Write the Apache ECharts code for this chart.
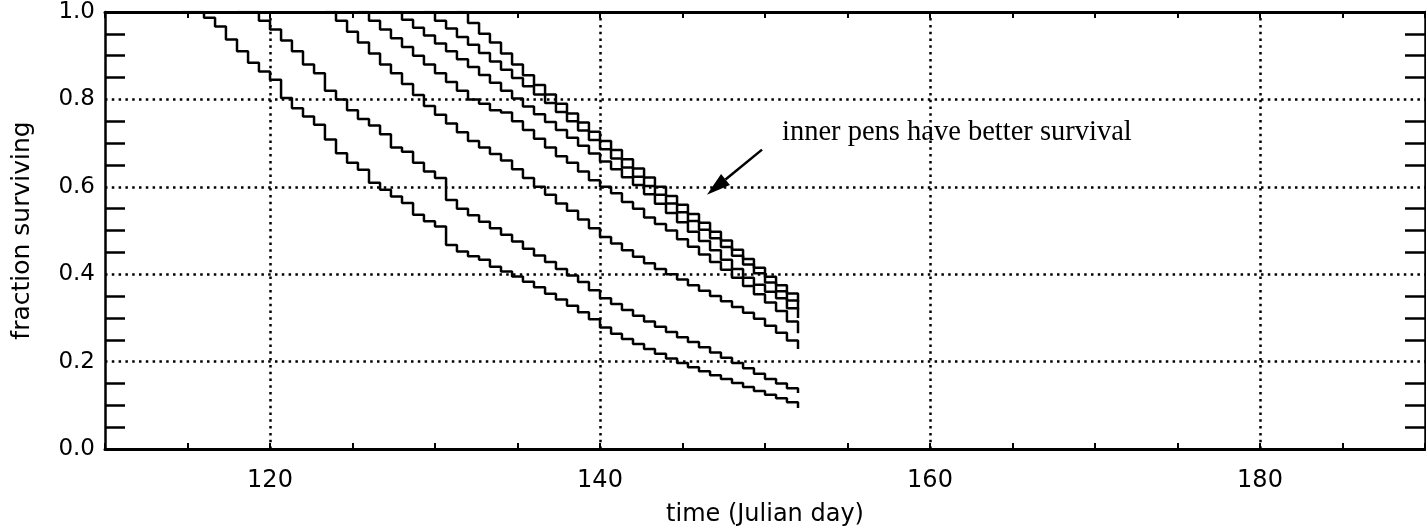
<!DOCTYPE html>
<html><head><meta charset="utf-8">
<script src="https://cdn.jsdelivr.net/npm/echarts@6/dist/echarts.min.js"></script>
<style>html,body{margin:0;padding:0;background:#fff}#c{width:1426px;height:530px}</style>
</head><body><div id="c"></div>
<script>
// observation times (Julian day), one every 8 hours
const days = [114.67,115.33,116,116.67,117.33,118,118.67,119.33,120,120.67,121.33,122,122.67,123.33,124,124.67,125.33,126,126.67,127.33,128,128.67,129.33,130,130.67,131.33,132,132.67,133.33,134,134.67,135.33,136,136.67,137.33,138,138.67,139.33,140,140.67,141.33,142,142.67,143.33,144,144.67,145.33,146,146.67,147.33,148,148.67,149.33,150,150.67,151.33,152];
const _ = null;
// fraction surviving for each pen
const pen1 = [1.0,1.0,0.987,0.967,0.937,0.910,0.884,0.864,0.845,0.803,0.780,0.761,0.742,0.708,0.677,0.655,0.639,0.609,0.593,0.578,0.563,0.536,0.521,0.509,0.467,0.452,0.441,0.433,0.417,0.406,0.395,0.383,0.370,0.355,0.342,0.328,0.313,0.297,0.278,0.264,0.252,0.240,0.229,0.218,0.207,0.197,0.187,0.178,0.169,0.160,0.151,0.142,0.133,0.124,0.116,0.107,0.094];
const pen2 = [_,_,_,_,_,1.0,1.0,0.98,0.96,0.935,0.91,0.88,0.86,0.82,0.80,0.775,0.755,0.74,0.72,0.69,0.68,0.655,0.635,0.62,0.57,0.55,0.535,0.52,0.505,0.49,0.475,0.458,0.443,0.428,0.412,0.397,0.382,0.363,0.345,0.332,0.318,0.305,0.292,0.280,0.268,0.256,0.245,0.233,0.221,0.209,0.197,0.185,0.172,0.160,0.150,0.139,0.128];
const pen3 = [_,_,_,_,_,_,_,_,_,_,_,_,_,1.0,0.98,0.955,0.93,0.905,0.88,0.86,0.835,0.81,0.785,0.765,0.745,0.725,0.705,0.69,0.675,0.66,0.64,0.62,0.60,0.582,0.562,0.545,0.525,0.505,0.485,0.470,0.455,0.440,0.425,0.412,0.400,0.388,0.375,0.362,0.350,0.338,0.325,0.312,0.298,0.282,0.266,0.248,0.229];
const pen4 = [_,_,_,_,_,_,_,_,_,_,_,_,_,_,_,_,1.0,0.98,0.96,0.94,0.92,0.90,0.88,0.86,0.84,0.82,0.80,0.79,0.775,0.77,0.75,0.73,0.71,0.69,0.67,0.655,0.635,0.615,0.60,0.585,0.565,0.55,0.53,0.515,0.50,0.48,0.463,0.445,0.428,0.41,0.392,0.373,0.354,0.335,0.316,0.292,0.265];
const pen5 = [_,_,_,_,_,_,_,_,_,_,_,_,_,_,_,_,_,_,_,1.0,0.982,0.964,0.946,0.928,0.910,0.892,0.874,0.856,0.838,0.820,0.802,0.784,0.766,0.748,0.730,0.712,0.694,0.676,0.658,0.640,0.622,0.604,0.583,0.561,0.540,0.519,0.497,0.476,0.455,0.433,0.412,0.392,0.376,0.360,0.345,0.322,0.30];
const pen6 = [_,_,_,_,_,_,_,_,_,_,_,_,_,_,_,_,_,_,_,_,_,_,1.0,0.98,0.962,0.943,0.925,0.906,0.887,0.868,0.849,0.830,0.811,0.792,0.771,0.750,0.729,0.707,0.686,0.665,0.644,0.623,0.602,0.582,0.562,0.542,0.522,0.502,0.482,0.462,0.442,0.422,0.402,0.381,0.361,0.340,0.32];
const pen7 = [_,_,_,_,_,_,_,_,_,_,_,_,_,_,_,_,_,_,_,_,_,_,_,_,_,1.0,0.975,0.95,0.93,0.905,0.88,0.855,0.833,0.811,0.79,0.768,0.747,0.726,0.705,0.684,0.663,0.642,0.621,0.60,0.579,0.559,0.538,0.518,0.497,0.477,0.456,0.435,0.415,0.394,0.375,0.356,0.337];
const pens = [pen1, pen2, pen3, pen4, pen5, pen6, pen7];
const xGridDays = [120, 140, 160, 180];
const xLabelStep = 20;
const annotationText = 'inner pens have better survival';
const annotationAt = [151.03, 0.724];
const arrowFrom = [149.82, 0.685];
const arrowTo = [146.48, 0.582];

const dotted = {color: '#000', width: 2.5, type: [2.5, 4.3]};
const sans = '"DejaVu Sans", sans-serif';
const chart = echarts.init(document.getElementById('c'), null, {renderer: 'canvas'});

const series = pens.map((vals, idx) => {
  const s = {
    type: 'line', step: 'end', symbol: 'none', animation: false, silent: true,
    lineStyle: {color: '#000', width: 2.5},
    data: days.map((d, i) => vals[i] == null ? null : [d, vals[i]]).filter(p => p)
  };
  if (idx === 0) {
    s.markLine = {
      silent: true, symbol: ['none', 'none'], label: {show: false}, animation: false,
      lineStyle: dotted,
      data: xGridDays.map(d => ({xAxis: d}))
    };
  }
  return s;
});

const xCommon = {
  type: 'value', min: 110, max: 190, interval: 5,
  axisTick: {show: true, inside: true, length: 6, lineStyle: {color: '#000', width: 2}},
  splitLine: {show: false}
};
const yCommon = {
  type: 'value', min: 0, max: 1, interval: 0.2,
  axisTick: {show: false, inside: true},
  minorTick: {show: true, splitNumber: 4, length: 20, lineStyle: {color: '#000', width: 2.5}}
};

chart.setOption({
  animation: false,
  grid: {left: 105, right: 1, top: 12, bottom: 81, containLabel: false, outerBoundsMode: 'none'},
  xAxis: [
    Object.assign({}, xCommon, {
      position: 'bottom',
      axisLine: {show: true, onZero: false, lineStyle: {color: '#000', width: 3}},
      axisLabel: {show: true, color: '#000', fontSize: 24, fontFamily: sans, margin: 20,
        formatter: v => (v % xLabelStep === 0 ? String(v) : '')},
      name: 'time (Julian day)', nameLocation: 'middle', nameGap: 54,
      nameTextStyle: {color: '#000', fontSize: 24, fontFamily: sans}
    }),
    Object.assign({}, xCommon, {
      position: 'top',
      axisLine: {show: true, onZero: false, lineStyle: {color: '#000', width: 3}},
      axisLabel: {show: false}
    })
  ],
  yAxis: [
    Object.assign({}, yCommon, {
      position: 'left',
      axisLine: {show: true, onZero: false, lineStyle: {color: '#000', width: 2.5}},
      axisLabel: {show: true, color: '#000', fontSize: 23, fontFamily: sans, margin: 10,
        formatter: v => v.toFixed(1)},
      splitLine: {show: true, lineStyle: dotted},
      name: 'fraction surviving', nameLocation: 'middle', nameGap: 70,
      nameTextStyle: {color: '#000', fontSize: 25, fontFamily: sans}
    }),
    Object.assign({}, yCommon, {
      position: 'right',
      axisLine: {show: true, onZero: false, lineStyle: {color: '#000', width: 2.5}},
      axisLabel: {show: false},
      splitLine: {show: false}
    })
  ],
  series: series
});

// annotation placed in data coordinates
const px = p => chart.convertToPixel({xAxisIndex: 0, yAxisIndex: 0}, p);
const tA = px(annotationAt), a0 = px(arrowFrom), a1 = px(arrowTo);
const dx = a1[0] - a0[0], dy = a1[1] - a0[1], L = Math.hypot(dx, dy);
const ux = dx / L, uy = dy / L, nx = -uy, ny = ux;
const headLen = 24, headW = 7;
const bx = a1[0] - headLen * ux, by = a1[1] - headLen * uy;
chart.setOption({
  graphic: [
    {type: 'text', silent: true, x: tA[0], y: tA[1],
      style: {text: annotationText, font: '28.5px "Liberation Serif", "Times New Roman", serif',
        fill: '#000', align: 'left', verticalAlign: 'middle'}},
    {type: 'line', silent: true, shape: {x1: a0[0], y1: a0[1], x2: bx, y2: by},
      style: {stroke: '#000', lineWidth: 2.5}},
    {type: 'polygon', silent: true,
      shape: {points: [[a1[0], a1[1]], [bx + headW * nx, by + headW * ny], [bx - headW * nx, by - headW * ny]]},
      style: {fill: '#000'}}
  ]
});
</script>
</body></html>
